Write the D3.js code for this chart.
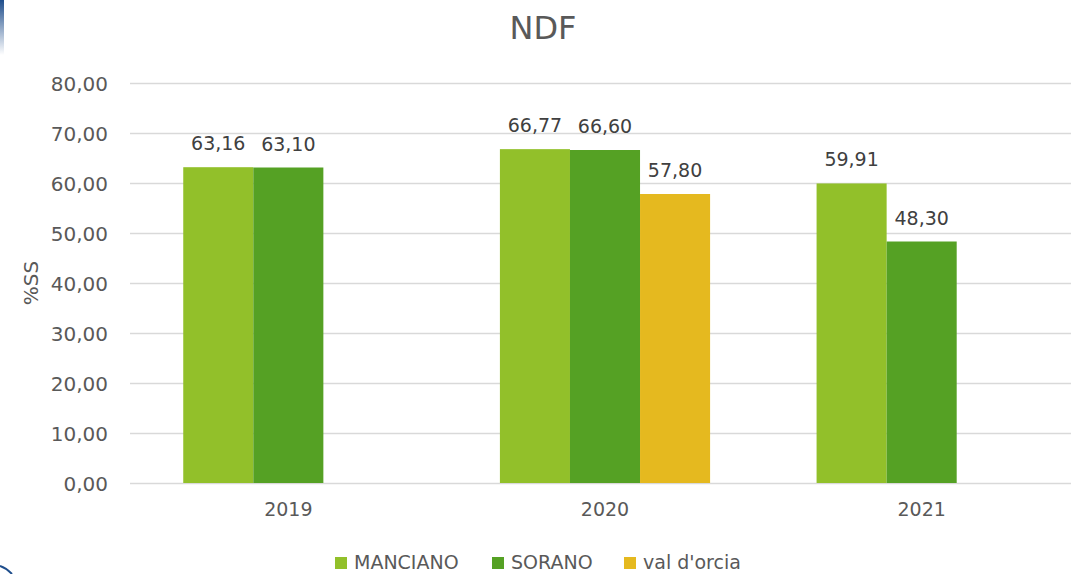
<!DOCTYPE html>
<html><head><meta charset="utf-8">
<script src="https://cdn.jsdelivr.net/npm/d3@7"></script>
<style>body{margin:0;background:#fff;}svg{display:block;}</style>
</head><body>
<svg id="c" width="1071" height="574"></svg>
<script>
const years = ["2019", "2020", "2021"];
const seriesNames = ["MANCIANO", "SORANO", "val d'orcia"];
const manciano = [63.16, 66.77, 59.91];
const sorano = [63.10, 66.60, 48.30];
const valdorcia = [null, 57.80, null];
const yTicks = [0, 10, 20, 30, 40, 50, 60, 70, 80];
const colors = ["#92c02a", "#55a124", "#e5b91f"];

(function(){
const svg = d3.select("#c");
const font = "'DejaVu Sans', sans-serif";
const pLeft = 130, pRight = 1080, pTop = 83, pBottom = 483;

const x = d3.scaleBand().domain(years).range([pLeft, pRight]).paddingInner(0).paddingOuter(0);
const x1 = d3.scaleBand().domain(seriesNames).range([0, x.bandwidth()]).paddingInner(0).paddingOuter(0.76);
const y = d3.scaleLinear().domain([0, 80]).range([pBottom, pTop]);
const fmt = v => d3.format(".2f")(v).replace(".", ",");

// decorative left edge
const defs = svg.append("defs");
const g1 = defs.append("linearGradient").attr("id","bl").attr("x1",0).attr("y1",0).attr("x2",0).attr("y2",1);
g1.append("stop").attr("offset","0%").attr("stop-color","#1f4e8c");
g1.append("stop").attr("offset","100%").attr("stop-color","#ffffff");
svg.append("rect").attr("x",0).attr("y",0).attr("width",4).attr("height",55).attr("fill","url(#bl)");
svg.append("path").attr("d","M0,566 Q6,568 12,574").attr("stroke","#1f4e8c").attr("stroke-width",2).attr("fill","none");

// gridlines
svg.append("g").selectAll("line").data(yTicks).join("line")
  .attr("x1", pLeft).attr("x2", 1071)
  .attr("y1", d => Math.round(y(d)) + 0.5).attr("y2", d => Math.round(y(d)) + 0.5)
  .attr("stroke", "#d9d9d9").attr("stroke-width", 1.3);

// y axis labels
const yAxis = d3.axisLeft(y).tickValues(yTicks).tickFormat(fmt).tickSize(0).tickPadding(0);
const ya = svg.append("g").attr("transform", `translate(${pLeft - 22},0)`).call(yAxis);
ya.select(".domain").remove();
ya.selectAll("text").attr("font-family", font).attr("font-size", 20).attr("fill", "#595959").attr("dy", "0.35em");

// x axis labels
const xAxis = d3.axisBottom(x).tickSize(0).tickPadding(0);
const xa = svg.append("g").attr("transform", `translate(0,${pBottom + 20})`).call(xAxis);
xa.select(".domain").remove();
xa.selectAll("text").attr("font-family", font).attr("font-size", 19).attr("fill", "#595959").attr("dy", "0.7em");

// bars
const data = [];
years.forEach((yr, i) => {
  [manciano, sorano, valdorcia].forEach((arr, s) => {
    if (arr[i] != null) data.push({year: yr, s, name: seriesNames[s], v: arr[i]});
  });
});
svg.append("g").selectAll("rect").data(data).join("rect")
  .attr("x", d => x(d.year) + x1(d.name))
  .attr("width", x1.bandwidth())
  .attr("y", d => y(d.v))
  .attr("height", d => y(0) - y(d.v))
  .attr("fill", d => colors[d.s]);

svg.append("g").selectAll("text").data(data).join("text")
  .attr("x", d => x(d.year) + x1(d.name) + x1.bandwidth() / 2)
  .attr("y", d => y(d.v) - 17)
  .attr("text-anchor", "middle")
  .attr("font-family", font).attr("font-size", 19).attr("fill", "#404040")
  .text(d => fmt(d.v));

// title
svg.append("text").attr("x", 543).attr("y", 39).attr("text-anchor", "middle")
  .attr("font-family", font).attr("font-size", 32).attr("fill", "#595959").text("NDF");

// y title
svg.append("text").attr("transform", "translate(38,283) rotate(-90)").attr("text-anchor", "middle")
  .attr("font-family", font).attr("font-size", 20).attr("fill", "#595959").text("%SS");

// legend
const legX = [335, 492, 624];
const lg = svg.append("g").selectAll("g").data(seriesNames).join("g")
  .attr("transform", (d, i) => `translate(${legX[i]},557)`);
lg.append("rect").attr("width", 12).attr("height", 12).attr("fill", (d, i) => colors[i]);
lg.append("text").attr("x", 19).attr("y", 12)
  .attr("font-family", font).attr("font-size", 19).attr("fill", "#595959").text(d => d);
})();
</script>
</body></html>
